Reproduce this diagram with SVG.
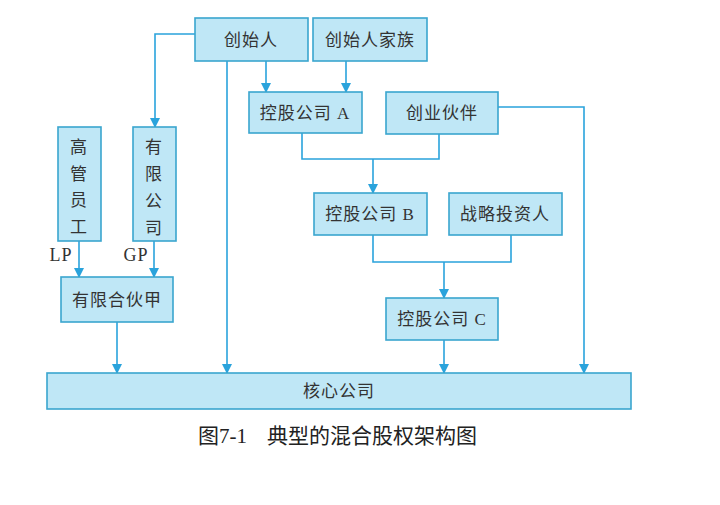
<svg xmlns="http://www.w3.org/2000/svg" width="720" height="505" viewBox="0 0 720 505">
<style>
.box{fill:#bfe7f6;stroke:#3aa6cf;stroke-width:1.6}
.t{font-family:"Liberation Serif","Noto Sans CJK SC",serif;font-size:17px;fill:#333;text-anchor:middle;dominant-baseline:central;letter-spacing:1px}
.lbl{font-size:18px}
.ln{fill:none;stroke:#2aa3dc;stroke-width:1.6}
.cap{font-family:"Liberation Serif","Noto Sans CJK SC",serif;font-size:21px;fill:#222;dominant-baseline:central}
</style>
<defs>
<marker id="ah" markerWidth="10" markerHeight="10" refX="9" refY="5" orient="auto" markerUnits="userSpaceOnUse">
<path d="M0,0 L10,5 L0,10 Z" fill="#2aa3dc"/>
</marker>
</defs>
<g id="connectors">
<path class="ln" d="M195,34 H155 V127" marker-end="url(#ah)"/>
<path class="ln" d="M227,61 V373" marker-end="url(#ah)"/>
<path class="ln" d="M266,61 V92" marker-end="url(#ah)"/>
<path class="ln" d="M346,61 V92" marker-end="url(#ah)"/>
<path class="ln" d="M302,133 V159 H439 V134"/>
<path class="ln" d="M373,159 V193" marker-end="url(#ah)"/>
<path class="ln" d="M498,107 H584 V373" marker-end="url(#ah)"/>
<path class="ln" d="M373,235 V262 H511 V235"/>
<path class="ln" d="M444,262 V298" marker-end="url(#ah)"/>
<path class="ln" d="M444,340 V373" marker-end="url(#ah)"/>
<path class="ln" d="M79,241 V277" marker-end="url(#ah)"/>
<path class="ln" d="M154,241 V277" marker-end="url(#ah)"/>
<path class="ln" d="M117,322 V373" marker-end="url(#ah)"/>
</g>
<g id="founder"><rect class="box" x="195" y="18" width="113" height="43"/><text class="t" x="251" y="40">创始人</text></g>
<g id="founder-family"><rect class="box" x="313" y="18" width="114" height="43"/><text class="t" x="370" y="40">创始人家族</text></g>
<g id="holding-a"><rect class="box" x="249" y="92" width="113" height="41"/><text class="t" x="305" y="113">控股公司 A</text></g>
<g id="partners"><rect class="box" x="386" y="92" width="112" height="42"/><text class="t" x="442" y="113">创业伙伴</text></g>
<g id="holding-b"><rect class="box" x="314" y="193" width="113" height="42"/><text class="t" x="370" y="214">控股公司 B</text></g>
<g id="strategic"><rect class="box" x="449" y="193" width="113" height="42"/><text class="t" x="505" y="214">战略投资人</text></g>
<g id="holding-c"><rect class="box" x="386" y="298" width="112" height="42"/><text class="t" x="442" y="319">控股公司 C</text></g>
<g id="executives"><rect class="box" x="58" y="127" width="43" height="114"/>
<text class="t" x="79" y="147">高</text><text class="t" x="79" y="174">管</text><text class="t" x="79" y="200">员</text><text class="t" x="79" y="227">工</text></g>
<g id="llc"><rect class="box" x="133" y="127" width="43" height="114"/>
<text class="t" x="154" y="147">有</text><text class="t" x="154" y="174">限</text><text class="t" x="154" y="201">公</text><text class="t" x="154" y="228">司</text></g>
<g id="lp-label"><text class="t lbl" x="61" y="255">LP</text></g>
<g id="gp-label"><text class="t lbl" x="136" y="255">GP</text></g>
<g id="partnership"><rect class="box" x="61" y="277" width="112" height="45"/><text class="t" x="117" y="300">有限合伙甲</text></g>
<g id="core"><rect class="box" x="47" y="373" width="584" height="36"/><text class="t" x="339" y="391">核心公司</text></g>
<text class="cap" x="198" y="436">图7-1<tspan dx="20">典型的混合股权架构图</tspan></text>
</svg>
